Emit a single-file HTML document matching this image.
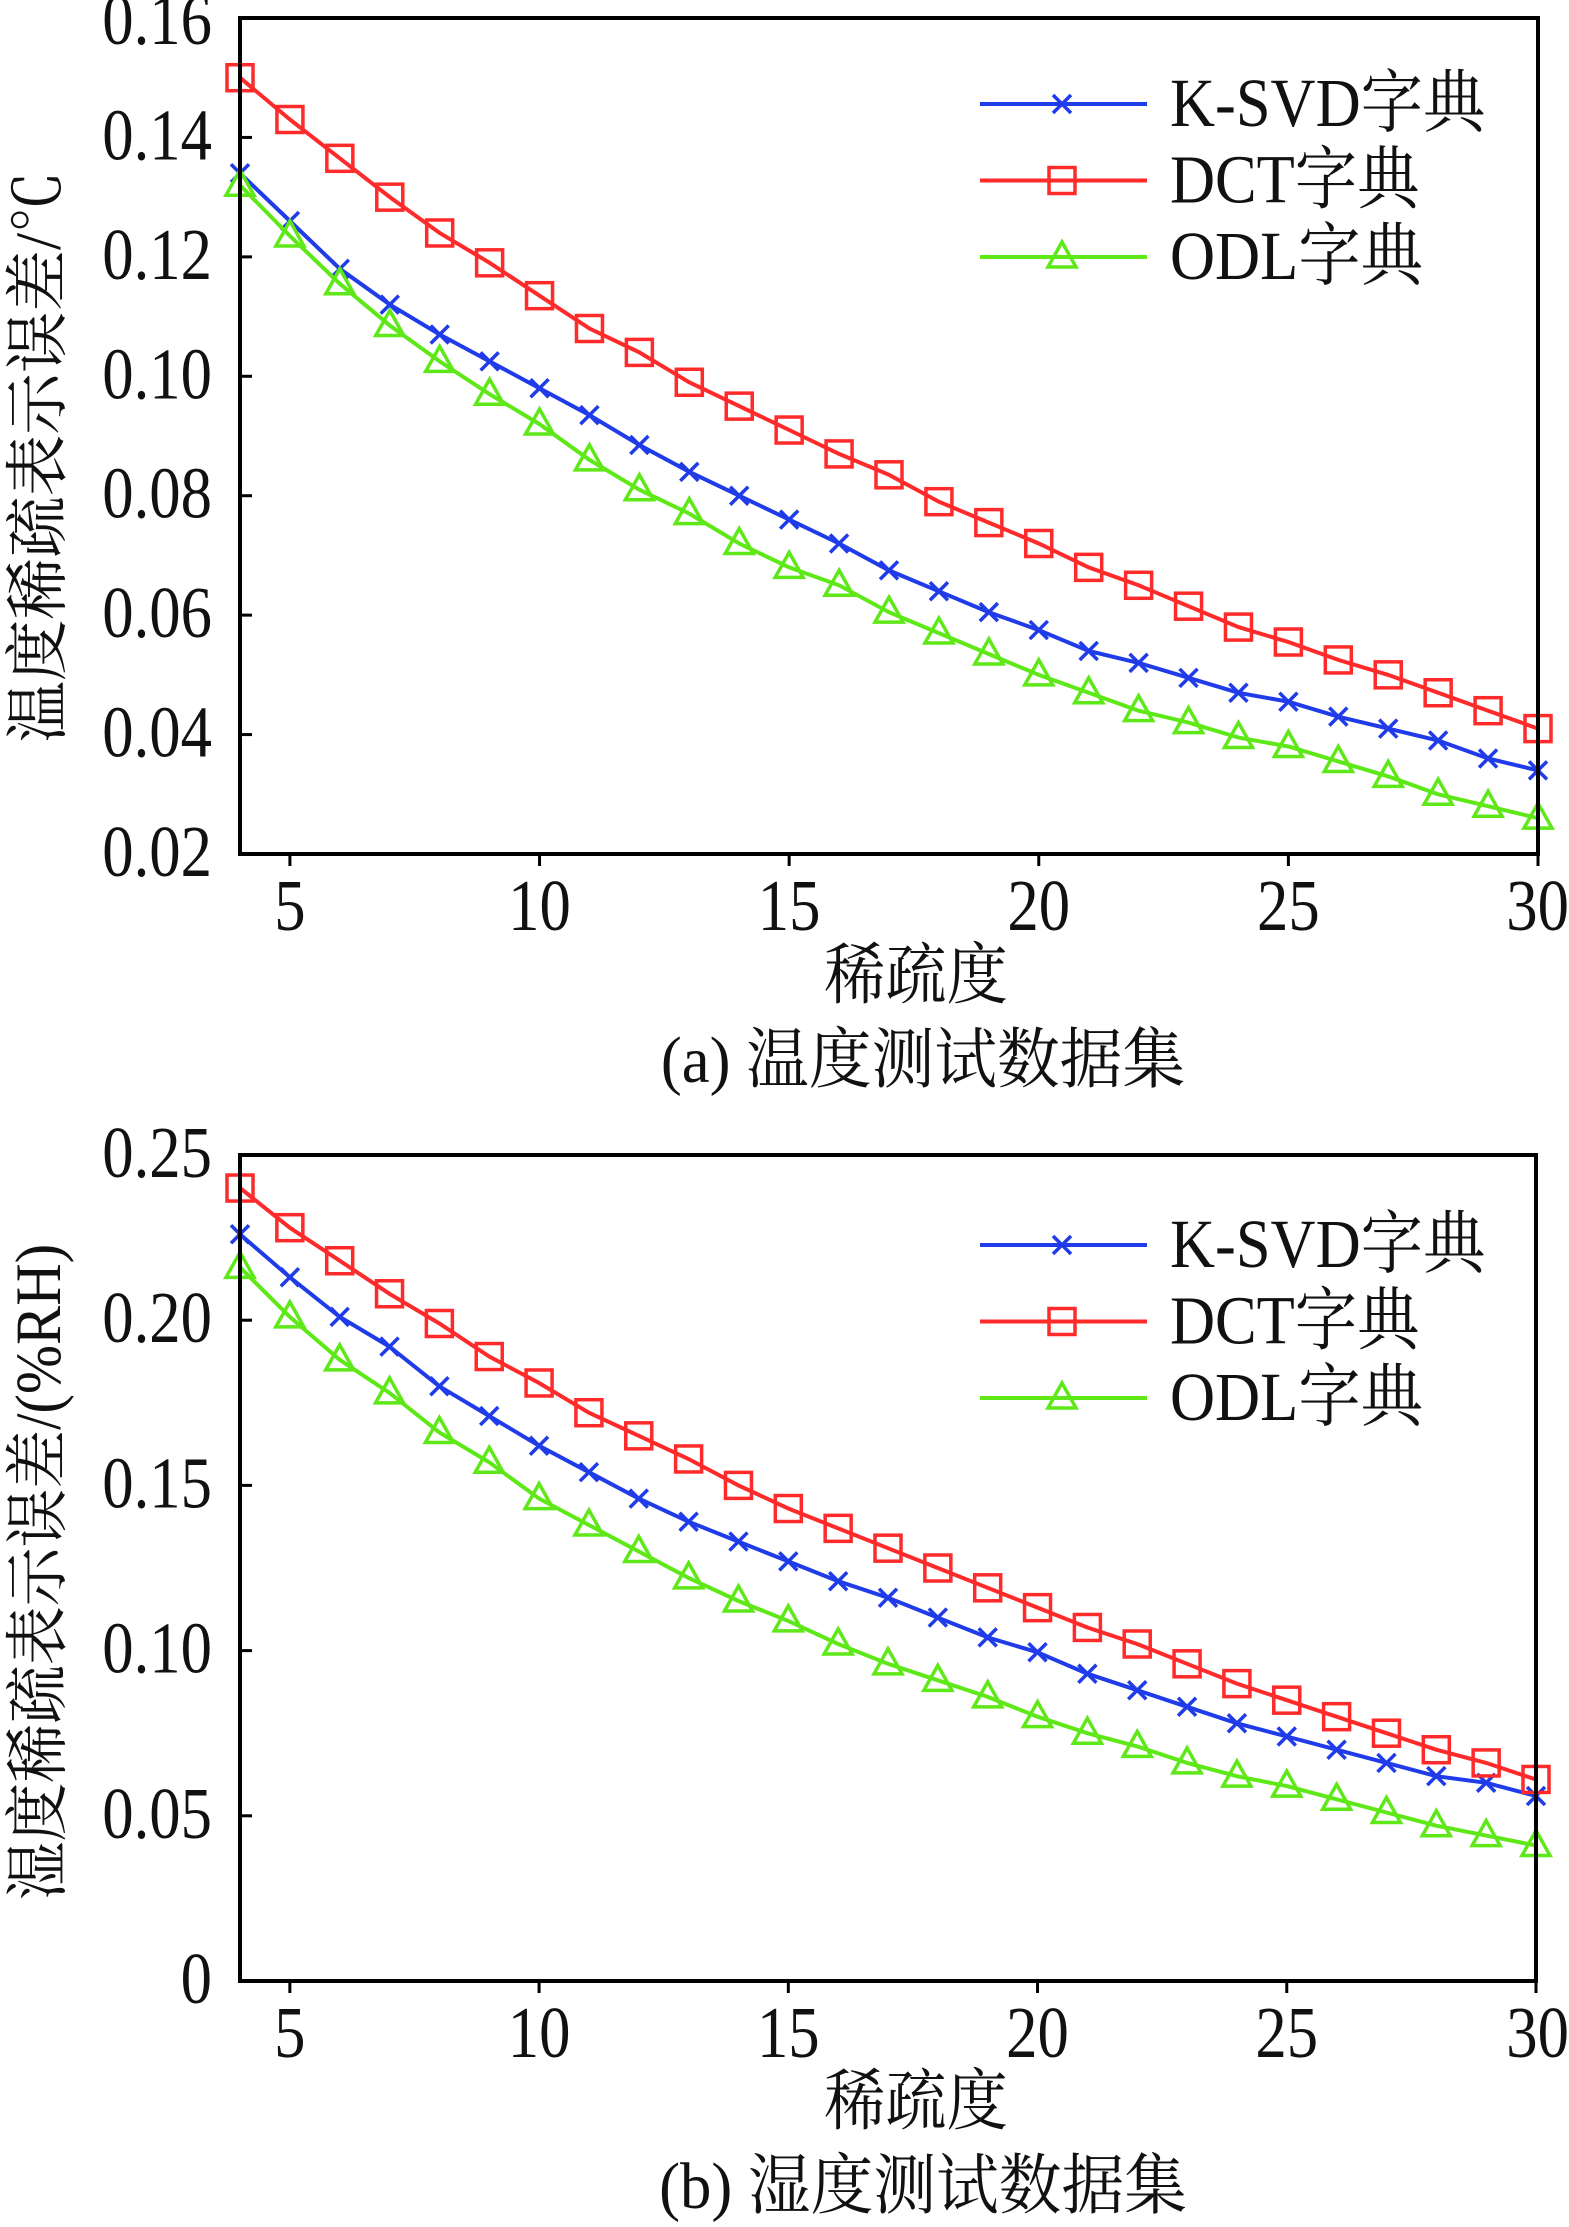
<!DOCTYPE html>
<html><head><meta charset="utf-8">
<style>
html,body{margin:0;padding:0;background:#fff;}
svg{display:block;}
text{font-family:"Liberation Serif","Noto Serif CJK SC","Noto Sans CJK SC",serif;fill:#111;}
</style></head>
<body>
<svg id="root" width="1569" height="2227" viewBox="0 0 1569 2227" xmlns="http://www.w3.org/2000/svg"></svg>
<script>
const xValues=[4,5,6,7,8,9,10,11,12,13,14,15,16,17,18,19,20,21,22,23,24,25,26,27,28,29,30];
const xTicks=[5,10,15,20,25,30];
const seriesNames=["K-SVD字典","DCT字典","ODL字典"];
const tempKSVD=[0.134,0.126,0.118,0.112,0.107,0.1025,0.098,0.0935,0.0885,0.084,0.080,0.076,0.072,0.0675,0.064,0.0605,0.0575,0.054,0.052,0.0495,0.047,0.0455,0.043,0.041,0.039,0.036,0.034];
const tempDCT=[0.150,0.143,0.1365,0.130,0.124,0.119,0.1135,0.108,0.104,0.099,0.095,0.091,0.087,0.0835,0.079,0.0755,0.072,0.068,0.065,0.0615,0.058,0.0555,0.0525,0.050,0.047,0.044,0.041];
const tempODL=[0.132,0.1235,0.1155,0.1085,0.1025,0.097,0.092,0.086,0.081,0.077,0.072,0.068,0.065,0.0605,0.057,0.0535,0.050,0.047,0.044,0.042,0.0395,0.038,0.0355,0.033,0.030,0.028,0.026];
const tempYTicks=["0.02","0.04","0.06","0.08","0.10","0.12","0.14","0.16"];
const humKSVD=[0.226,0.213,0.201,0.192,0.180,0.171,0.162,0.154,0.146,0.139,0.133,0.127,0.121,0.116,0.110,0.104,0.0995,0.093,0.088,0.083,0.078,0.074,0.070,0.066,0.062,0.060,0.056];
const humDCT=[0.240,0.228,0.218,0.208,0.199,0.189,0.181,0.172,0.165,0.158,0.150,0.143,0.137,0.131,0.125,0.119,0.113,0.107,0.102,0.096,0.090,0.085,0.080,0.075,0.070,0.066,0.061];
const humODL=[0.216,0.201,0.188,0.178,0.166,0.157,0.146,0.138,0.130,0.122,0.115,0.109,0.102,0.096,0.091,0.086,0.080,0.075,0.071,0.066,0.062,0.059,0.055,0.051,0.047,0.044,0.041];
const humYTicks=["0","0.05","0.10","0.15","0.20","0.25"];

const NS="http://www.w3.org/2000/svg";
const root=document.getElementById('root');
const colors=["#1f3ce8","#ff2a2a","#5ee818"];
const markers=["x","square","triangle"];
function mk(tag,attrs,parent){const e=document.createElementNS(NS,tag);for(const k in attrs)e.setAttribute(k,attrs[k]);(parent||root).appendChild(e);return e;}
function txt(s,x,y,size,anchor,parent,extra){const t=mk('text',Object.assign({x:x,y:y,'font-size':size,'text-anchor':anchor},extra||{}),parent);t.textContent=s;return t;}
function marker(type,cx,cy,color,g){
  let m;
  if(type==="x"){m=mk('path',{d:`M${cx-9} ${cy-9}L${cx+9} ${cy+9}M${cx-9} ${cy+9}L${cx+9} ${cy-9}`,stroke:color,'stroke-width':3.5,fill:'none'},g);}
  else if(type==="square"){m=mk('rect',{x:cx-13,y:cy-13,width:26,height:26,stroke:color,'stroke-width':3.5,fill:'none'},g);}
  else {m=mk('path',{d:`M${cx} ${cy-15}L${cx+14} ${cy+10}L${cx-14} ${cy+10}Z`,stroke:color,'stroke-width':3.5,fill:'none'},g);}
  return m;
}
function chart(cfg){
  const g=mk('g',{});
  
  
  const L=240,R=cfg.right,T=cfg.top,B=cfg.bottom;
  const xs=v=>L+(v-4)/(30-4)*(R-L);
  const ys=v=>B-(v-cfg.ymin)/(cfg.ymax-cfg.ymin)*(B-T);
  cfg.yTicks.forEach(lbl=>{
    const v=parseFloat(lbl),y=ys(v);
    const tk=mk('line',{x1:L,x2:L+12,y1:y,y2:y,stroke:'#000','stroke-width':3},g);
    
    
    const ty=Math.max(y+22,44);
    const t=txt(lbl,0,0,56,'end',g,{transform:`translate(${L-28},${ty}) scale(1.12,1.3)`});
    
    
  });
  xTicks.forEach(v=>{
    const x=xs(v);
    const tk=mk('line',{x1:x,x2:x,y1:B,y2:B+12,stroke:'#000','stroke-width':3},g);
    
    
    const t=txt(String(v),0,0,56,v===30?'end':'middle',g,{transform:`translate(${v===30?1569:x},${B+76}) scale(1.12,1.3)`});
    
    
  });
  cfg.series.forEach((vals,i)=>{
    const sg=mk('g',{},g);
    
    
    const d=vals.map((v,j)=>(j?'L':'M')+xs(xValues[j]).toFixed(1)+' '+ys(v).toFixed(1)).join('');
    const p=mk('path',{d:d,stroke:colors[i],'stroke-width':4,fill:'none'},sg);
    
    
    vals.forEach((v,j)=>{
      const m=marker(markers[i],xs(xValues[j]),ys(v),colors[i],sg);
      
      
    });
  });
  const fr=mk('rect',{x:L,y:T,width:R-L,height:B-T,fill:'none',stroke:'#000','stroke-width':4},g);
  
  
  seriesNames.forEach((n,i)=>{
    const y=cfg.legendY+i*76.5;
    const lg=mk('g',{},g);
    
    
    mk('line',{x1:980,x2:1147,y1:y,y2:y,stroke:colors[i],'stroke-width':4},lg);
    marker(markers[i],1062,y,colors[i],lg);
    txt(n,0,0,60,'start',lg,{transform:`translate(1170,${y+22}) scale(1.04,1.15)`});
  });
  const xt=txt('稀疏度',0,0,60,'middle',g,{transform:`translate(916,${cfg.xTitleY}) scale(1.02,1.12)`});
  
  
  const yt=txt(cfg.yTitle,0,0,56,'middle',g,{transform:`translate(60,${cfg.yTitleY}) rotate(-90) scale(${cfg.yScale},1.15)`});
  
  
  const cp=txt(cfg.caption,0,0,56,'middle',g,{transform:`translate(923,${cfg.captionY}) scale(1.12,1.18)`});
  
  
}
chart({name:'temperature-chart',top:18,bottom:854,right:1538,ymin:0.02,ymax:0.16,yTicks:tempYTicks,series:[tempKSVD,tempDCT,tempODL],legendY:104,xTitleY:998,yTitle:'温度稀疏表示误差/℃',yTitleY:457,yScale:1.1,caption:'(a) 温度测试数据集',captionY:1082});
chart({name:'humidity-chart',top:1155,bottom:1981,right:1536,ymin:0,ymax:0.25,yTicks:humYTicks,series:[humKSVD,humDCT,humODL],legendY:1245,xTitleY:2124,yTitle:'湿度稀疏表示误差/(%RH)',yTitleY:1572,yScale:1.05,caption:'(b) 湿度测试数据集',captionY:2208});
</script>
</body></html>
